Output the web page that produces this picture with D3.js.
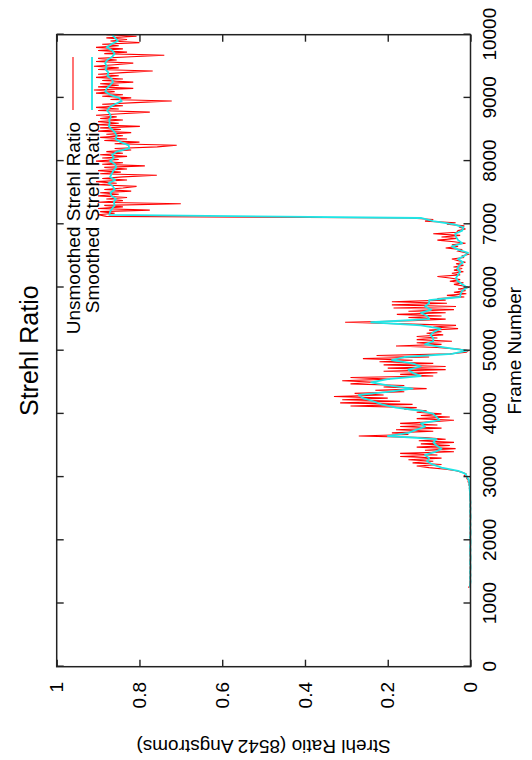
<!DOCTYPE html>
<html>
<head>
<meta charset="utf-8">
<script src="https://cdn.jsdelivr.net/npm/d3@7"></script>
<style>
  body { margin: 0; background: #fff; }
  text { font-family: "Liberation Sans", Arial, sans-serif; fill: #000; }
</style>
</head>
<body>
<div id="chart"></div>
<script>
// Frame axis ticks and labels.
const frameTicks = [0, 1000, 2000, 3000, 4000, 5000, 6000, 7000, 8000, 9000, 10000];
const frameLabels = ["0", "1000", "2000", "3000", "4000", "5000", "6000", "7000", "8000", "9000", "10000"];

// Strehl axis ticks and labels.
const strehlTicks = [0, 0.2, 0.4, 0.6, 0.8, 1];
const strehlLabels = ["0", "0.2", "0.4", "0.6", "0.8", "1"];

const seriesNames = ["Unsmoothed Strehl Ratio", "Smoothed Strehl Ratio"];

// Unsmoothed strehl ratio, one value every 25 frames starting at frame 1250.
const rawStart = 1250;
const rawStep = 25;
const unsmoothed = [
    0.005, 0.002, 0.001, 0.001, 0.001, 0.0, 0.001, 0.001, 0.0, 0.001, 0.001, 0.0, 0.001, 0.001, 0.0, 0.001, 0.0, 0.001, 0.001, 0.0,
    0.001, 0.001, 0.0, 0.001, 0.001, 0.001, 0.0, 0.0, 0.001, 0.001, 0.001, 0.0, 0.001, 0.0, 0.001, 0.001, 0.0, 0.001, 0.001, 0.0,
    0.001, 0.001, 0.0, 0.001, 0.0, 0.001, 0.001, 0.0, 0.001, 0.001, 0.0, 0.001, 0.001, 0.001, 0.0, 0.001, 0.001, 0.001, 0.001, 0.002,
    0.001, 0.002, 0.001, 0.003, 0.002, 0.004, 0.003, 0.006, 0.005, 0.009, 0.008, 0.015, 0.011, 0.02, 0.035, 0.06, 0.1, 0.13, 0.07, 0.14,
    0.09, 0.15, 0.07, 0.17, 0.08, 0.17, 0.04, 0.11, 0.036, 0.13, 0.05, 0.12, 0.04, 0.125, 0.06, 0.11, 0.27, 0.15, 0.19, 0.09,
    0.18, 0.07, 0.17, 0.08, 0.17, 0.09, 0.04, 0.13, 0.05, 0.12, 0.07, 0.13, 0.106, 0.16, 0.13, 0.29, 0.14, 0.315, 0.17, 0.31,
    0.2, 0.33, 0.21, 0.28, 0.16, 0.23, 0.106, 0.21, 0.16, 0.29, 0.23, 0.31, 0.195, 0.29, 0.09, 0.17, 0.08, 0.21, 0.06, 0.2,
    0.06, 0.21, 0.09, 0.22, 0.14, 0.26, 0.1, 0.227, 0.05, 0.01, 0.005, 0.03, 0.08, 0.18, 0.07, 0.13, 0.045, 0.13, 0.08, 0.13,
    0.066, 0.106, 0.07, 0.1, 0.03, 0.09, 0.035, 0.16, 0.303, 0.14, 0.06, 0.15, 0.07, 0.178, 0.06, 0.15, 0.04, 0.186, 0.035, 0.19,
    0.057, 0.19, 0.06, 0.08, 0.015, 0.057, 0.01, 0.04, 0.012, 0.03, 0.004, 0.017, 0.04, 0.017, 0.05, 0.025, 0.05, 0.08, 0.025, 0.045,
    0.017, 0.04, 0.02, 0.041, 0.017, 0.035, 0.012, 0.03, 0.045, 0.017, 0.02, 0.005, 0.012, 0.03, 0.02, 0.06, 0.03, 0.045, 0.012, 0.04,
    0.08, 0.033, 0.07, 0.025, 0.09, 0.033, 0.03, 0.012, 0.025, 0.015, 0.057, 0.036, 0.11, 0.09, 0.15, 0.88, 0.9, 0.86, 0.895, 0.775,
    0.9, 0.84, 0.885, 0.70, 0.9, 0.84, 0.88, 0.83, 0.9, 0.85, 0.895, 0.82, 0.885, 0.84, 0.807, 0.9, 0.855, 0.905, 0.83, 0.89,
    0.84, 0.758, 0.895, 0.845, 0.9, 0.83, 0.885, 0.787, 0.89, 0.84, 0.905, 0.85, 0.89, 0.83, 0.895, 0.84, 0.88, 0.82, 0.86, 0.757,
    0.71, 0.86, 0.8, 0.885, 0.83, 0.895, 0.84, 0.88, 0.82, 0.9, 0.845, 0.895, 0.799, 0.905, 0.85, 0.9, 0.84, 0.895, 0.855, 0.905,
    0.845, 0.775, 0.9, 0.85, 0.905, 0.84, 0.89, 0.81, 0.722, 0.87, 0.82, 0.89, 0.84, 0.905, 0.86, 0.91, 0.815, 0.9, 0.85, 0.895,
    0.815, 0.89, 0.84, 0.905, 0.85, 0.9, 0.84, 0.768, 0.9, 0.85, 0.91, 0.86, 0.815, 0.905, 0.855, 0.9, 0.82, 0.74, 0.885, 0.83,
    0.9, 0.84, 0.905, 0.85, 0.89, 0.80, 0.87, 0.83, 0.88, 0.807, 0.88
];

// Smoothed strehl ratio, one value every 50 frames starting at frame 1250.
const smoothStart = 1250;
const smoothStep = 50;
const smoothed = [
    0.001, 0.001, 0.0, 0.001, 0.0, 0.001, 0.0, 0.0, 0.001, 0.0,
    0.0, 0.001, 0.0, 0.001, 0.0, 0.0, 0.001, 0.0, 0.0, 0.001,
    0.0, 0.001, 0.0, 0.0, 0.001, 0.0, 0.001, 0.0, 0.001, 0.001,
    0.001, 0.002, 0.002, 0.003, 0.004, 0.008, 0.012, 0.03, 0.07, 0.092,
    0.105, 0.10, 0.11, 0.085, 0.07, 0.082, 0.09, 0.082, 0.20, 0.15,
    0.13, 0.11, 0.12, 0.075, 0.082, 0.09, 0.12, 0.18, 0.215, 0.235,
    0.26, 0.27, 0.20, 0.14, 0.20, 0.24, 0.20, 0.12, 0.14, 0.15,
    0.12, 0.14, 0.19, 0.16, 0.045, 0.008, 0.06, 0.11, 0.09, 0.09,
    0.097, 0.088, 0.072, 0.12, 0.24, 0.10, 0.105, 0.12, 0.095, 0.11,
    0.10, 0.10, 0.025, 0.024, 0.02, 0.008, 0.02, 0.03, 0.035, 0.03,
    0.025, 0.032, 0.027, 0.018, 0.03, 0.015, 0.006, 0.03, 0.045, 0.02,
    0.03, 0.035, 0.037, 0.02, 0.017, 0.04, 0.09, 0.12, 0.873, 0.871,
    0.866, 0.860, 0.862, 0.857, 0.868, 0.870, 0.860, 0.864, 0.875, 0.859,
    0.871, 0.867, 0.863, 0.856, 0.859, 0.871, 0.862, 0.866, 0.855, 0.825,
    0.826, 0.845, 0.858, 0.855, 0.859, 0.866, 0.874, 0.872, 0.873, 0.869,
    0.872, 0.878, 0.872, 0.86, 0.843, 0.849, 0.871, 0.883, 0.879, 0.871,
    0.864, 0.867, 0.878, 0.875, 0.882, 0.879, 0.883, 0.878, 0.866, 0.86,
    0.866, 0.879, 0.868, 0.852, 0.859, 0.866
];

const pageWidth = 532;
const pageHeight = 760;

// The plot is drawn as a normal landscape chart, then turned on its side.
const plot = { left: 93.3, right: 725.3, top: 56.7, bottom: 470.5 };

const svg = d3.select("#chart").append("svg")
    .attr("width", pageWidth)
    .attr("height", pageHeight);

const g = svg.append("g")
    .attr("transform", "translate(0," + pageHeight + ") rotate(-90)");

const x = d3.scaleLinear()
    .domain([0, 10000])
    .range([plot.left, plot.right]);

const y = d3.scaleLinear()
    .domain([0, 1])
    .range([plot.bottom, plot.top]);

// Data lines: unsmoothed in red, smoothed cyan on top.
const rawLine = d3.line()
    .x((d, i) => x(rawStart + i * rawStep))
    .y(d => y(d));

const smoothLine = d3.line()
    .x((d, i) => x(smoothStart + i * smoothStep))
    .y(d => y(d));

g.append("path")
    .attr("d", rawLine(unsmoothed))
    .style("fill", "none")
    .style("stroke", "#ff0000")
    .style("stroke-width", 1.1);

g.append("path")
    .attr("d", smoothLine(smoothed))
    .style("fill", "none")
    .style("stroke", "#1ee6e6")
    .style("stroke-width", 1.8)
    .style("stroke-linejoin", "round");

// Axes with inward ticks, mirrored on the opposite sides.
const xAxis = d3.axisBottom(x)
    .tickValues(frameTicks)
    .tickFormat((d, i) => frameLabels[i])
    .tickSizeInner(-7)
    .tickSizeOuter(0)
    .tickPadding(12.5);

const yAxis = d3.axisLeft(y)
    .tickValues(strehlTicks)
    .tickFormat((d, i) => strehlLabels[i])
    .tickSizeInner(-7)
    .tickSizeOuter(0)
    .tickPadding(15.3);

const axes = [
    { axis: xAxis, t: "translate(0," + plot.bottom + ")" },
    { axis: yAxis, t: "translate(" + plot.left + ",0)" },
    { axis: d3.axisTop(x).tickValues(frameTicks).tickFormat("").tickSizeInner(-7).tickSizeOuter(0), t: "translate(0," + plot.top + ")" },
    { axis: d3.axisRight(y).tickValues(strehlTicks).tickFormat("").tickSizeInner(-7).tickSizeOuter(0), t: "translate(" + plot.right + ",0)" }
];

axes.forEach(function (a) {
    const ag = g.append("g")
        .attr("transform", a.t)
        .call(a.axis);
    ag.select(".domain").remove();
    ag.selectAll("line").style("stroke", "#222").style("stroke-width", 1.4);
    ag.selectAll("text")
        .style("font-size", "19px")
        .style("font-family", "'Liberation Sans', Arial, sans-serif")
        .attr("fill", "#000");
});

// Plot border, drawn over the data so values at zero sit under it.
g.append("rect")
    .attr("x", plot.left)
    .attr("y", plot.top)
    .attr("width", plot.right - plot.left)
    .attr("height", plot.bottom - plot.top)
    .style("fill", "none")
    .style("stroke", "#222")
    .style("stroke-width", 1.5);

// Title and axis labels.
g.append("text")
    .attr("x", (plot.left + plot.right) / 2)
    .attr("y", 38)
    .style("text-anchor", "middle")
    .style("font-size", "25px")
    .text("Strehl Ratio");

g.append("text")
    .attr("x", (plot.left + plot.right) / 2)
    .attr("y", 521)
    .style("text-anchor", "middle")
    .style("font-size", "19px")
    .text("Frame Number");

g.append("text")
    .attr("transform", "translate(20," + ((plot.top + plot.bottom) / 2) + ") rotate(-90)")
    .style("text-anchor", "middle")
    .style("font-size", "19px")
    .text("Strehl Ratio (8542 Angstroms)");

// Legend in the upper right corner.
const legendColors = ["#ff0000", "#1ee6e6"];
const legendWidths = [1.1, 1.8];

seriesNames.forEach(function (name, i) {
    const rowY = 73 + i * 19;
    g.append("text")
        .attr("x", 638)
        .attr("y", rowY + 7)
        .style("text-anchor", "end")
        .style("font-size", "19px")
        .text(name);
    g.append("line")
        .attr("x1", 650)
        .attr("x2", 703)
        .attr("y1", rowY)
        .attr("y2", rowY)
        .style("stroke", legendColors[i])
        .style("stroke-width", legendWidths[i]);
});
</script>
</body>
</html>
